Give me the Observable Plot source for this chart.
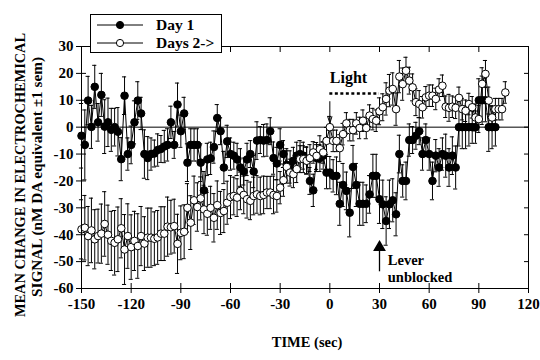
<!DOCTYPE html>
<html><head><meta charset="utf-8">
<script src="https://cdn.jsdelivr.net/npm/d3@7"></script>
<script src="https://cdn.jsdelivr.net/npm/@observablehq/plot@0.6"></script>
<style>
body{margin:0;background:#fff}
#chart svg{font-family:'Liberation Serif',serif;font-weight:bold;font-size:15px;}
</style>
</head><body><div id="chart"></div>
<script>
// time bins (sec)
const time = [
-150,-148,-146,-144,-142,-140,-138,-136,-134,-132,
-130,-128,-126,-124,-122,-120,-118,-116,-114,-112,
-110,-108,-106,-104,-102,-100,-98,-96,-94,-92,
-90,-88,-86,-84,-82,-80,-78,-76,-74,-72,
-70,-68,-66,-64,-62,-60,-58,-56,-54,-52,
-50,-48,-46,-44,-42,-40,-38,-36,-34,-32,
-30,-28,-26,-24,-22,-20,-18,-16,-14,-12,
-10,-8,-6,-4,-2,0,2,4,6,8,
10,12,14,16,18,20,22,24,26,28,
30,32,34,36,38,40,42,44,46,48,
50,52,54,56,58,60,62,64,66,68,
70,72,74,76,78,80,82,84,86,88,
90,92,94,96,98,100,102,104,106];

const day1Mean = [
-3.2,-6.6,9.9,0.1,15,1.8,12,0.2,1.8,-1,0,-1.7,-11.9,11.7,-10,-6.6,1.8,9.9,5.1,-10,-11.5,-10,-9.8,-8.5,-8.1,-7.2,-6.6,
1.8,-6.6,8.4,-1.5,5.1,-13.2,-6.6,-6.6,-6.6,-13.2,-23.5,-12,-11.6,-7.4,3.4,-1.5,-15,-5.3,-10,-10.6,-12,-15,-16.5,-12,-10,-16.5,-5,
-4.8,-5,-4.8,-1.5,-11.5,-13.5,-6.6,-10,-14,-14.8,-12.5,-10.6,-10,-10.6,-12.3,-20,-23.5,-11.5,-11.5,-10.6,-16.9,
-16.9,-18.1,-18.1,-28.5,-21.5,-23.7,-31.8,-14.8,-21.5,-28.5,-28.5,-28.5,-25,-18.1,-18.1,-26.8,-28.7,-34.9,-28.7,-27.2,-32.4,-10,-20,-20,-4.8,-4.8,-3.2,-1.5,
-10,-4.8,-10,-20,-10.6,-15,-10,-10.6,-15,-10.6,-15,0,0,0,0,0,0,10,10,10,0,0,0];
const day1Sem = [
12,13,9,8,8,7,8,10,9,8,7,9,8,7,6,7,8,7,6,9,8,6,5,6,5,6,6,
6,5,8,6,6,7,6,6,6,7,7,6,6,6,5,5,6,6,6,5,6,7,5,6,5,6,7,
5,6,6,5,6,6,6,5,6,6,5,5,5,5,5,5,6,5,5,5,6,
6,6,7,8,8,7,9,8,8,8,8,7,7,8,8,9,9,9,9,8,8,7,6,7,6,5,5,5,
6,6,6,7,6,7,6,8,7,7,8,7,8,8,7,6,6,8,9,8,9,8,7];

const days2Mean = [
-38,-37.4,-40.5,-38.4,-41.7,-40.5,-39.6,-36,-40,-42.3,-43,-41.7,-37.6,-45.5,-40.5,-44.6,-42.3,-44.2,-40.5,-43.3,-41.1,-41.1,-41.5,-41,-39.6,-39.6,-37,
-37.2,-36.8,-43.4,-39.3,-38.9,-30,-35.5,-27.2,-29.7,-26.5,-30.6,-32.2,-30,-33.7,-29,-31.9,-31.2,-28.1,-26,-25.6,-26.2,-23.7,-25.2,-26.8,-27.4,-25.6,-25,
-25.6,-25.2,-24.3,-24.3,-25.2,-25.6,-22.5,-19.7,-14.8,-16.9,-17.5,-15.6,-11.9,-11.9,-12.5,-11.5,-9.4,-10.7,-8.2,-9.4,-5.1,
0,-5.1,-5.1,-7.8,-2.6,1.4,-1.1,-1.1,1.4,-0.3,2.4,-0.3,4.3,3,2.4,5.9,7.4,10.5,13.6,14.2,6.7,18.8,16,21,17.3,14.8,9.3,8.6,
7.4,11.1,11.7,11.7,10.5,14,15.4,7.6,7.2,7.6,7.2,10.9,6.7,6.1,8.6,7.4,3.6,3,16.1,19.8,9.9,3.6,6.7,6.7,6.7,12.9];
const days2Sem = [
11,12,11,12,11,10,11,12,11,11,12,12,11,13,12,12,11,12,11,10,11,11,10,10,10,10,11,
10,10,11,10,10,9,10,9,9,8,9,8,8,9,9,8,8,8,8,7,7,7,7,7,7,7,7,
7,7,6,6,7,6,6,6,6,5,5,5,5,5,5,5,4,5,5,4,5,
4,4,4,5,4,4,4,4,4,4,4,4,4,4,4,5,5,6,6,6,6,6,6,5,5,5,5,5,
4,4,4,4,4,4,4,4,5,4,4,4,4,4,4,4,5,5,6,5,5,4,4,4,4,4];

const xTicks = [-150,-120,-90,-60,-30,0,30,60,90,120];
const yTicks = [30,20,10,0,-10,-20,-30,-40,-50,-60];
const seriesNames = ["Day 1", "Days 2->"];
const yTitle = ["MEAN CHANGE IN ELECTROCHEMICAL", "SIGNAL (nM DA equivalent \u00b11 sem)"];
const xTitle = "TIME (sec)";
// annotations (data units)
const lightNote = {text: "Light", t0: 0, t1: 30, level: 12.5, arrowTop: 9.5, arrowTip: 1.5, labelY: 18.4};
const leverNote = {lines: ["Lever", "unblocked"], t: 30, tail: -53.6, tip: -44.7, textT: 35, lineY: [-49.6, -55.9]};

const rows1 = day1Mean.map((v, i) => ({t: time[i], v, s: day1Sem[i]}));
const rows2 = days2Mean.map((v, i) => ({t: time[i], v, s: days2Sem[i]}));
const cap = 1.25;
const fmt = d => (d < 0 ? "-" + Math.abs(d) : String(d));

function series(rows, fill) {
  return [
    Plot.ruleX(rows, {x: "t", y1: d => d.v - d.s, y2: d => d.v + d.s, stroke: "black", strokeWidth: 1}),
    Plot.ruleY(rows, {y: d => d.v + d.s, x1: d => d.t - cap, x2: d => d.t + cap, stroke: "black", strokeWidth: 1}),
    Plot.ruleY(rows, {y: d => d.v - d.s, x1: d => d.t - cap, x2: d => d.t + cap, stroke: "black", strokeWidth: 1}),
    Plot.line(rows, {x: "t", y: "v", stroke: "black", strokeWidth: 1}),
    Plot.dot(rows, {x: "t", y: "v", r: 3.8, fill, stroke: "black", strokeWidth: 1})
  ];
}

const chart = Plot.plot({
  width: 540, height: 360,
  marginLeft: 81, marginRight: 12, marginTop: 46, marginBottom: 72,
  x: {domain: [-150, 120]},
  y: {domain: [-60, 30]},
  marks: [
    Plot.ruleY([0], {stroke: "black", strokeWidth: 1}),
    ...series(rows1, "black"),
    ...series(rows2, "white"),
    // Light annotation
    Plot.ruleY([lightNote], {y: "level", x1: "t0", x2: "t1", stroke: "black", strokeWidth: 2.5, strokeDasharray: "3,2.5"}),
    Plot.arrow([lightNote], {x1: "t0", x2: "t0", y1: "arrowTop", y2: "arrowTip", stroke: "black", strokeWidth: 1, headLength: 10, headAngle: 36}),
    Plot.text([lightNote], {x: "t0", y: "labelY", text: "text", textAnchor: "start", fontSize: 16, fontWeight: "bold", fill: "black"}),
    // Lever annotation
    Plot.link([leverNote], {x1: "t", x2: "t", y1: "tail", y2: "tip", stroke: "black", strokeWidth: 1.3}),
    Plot.dot([leverNote], {x: "t", y: "tip", symbol: "triangle", r: 3.8, fill: "black", stroke: "black"}),
    Plot.text(leverNote.lines, {x: leverNote.textT, y: (d, i) => leverNote.lineY[i], text: d => d, textAnchor: "start", fontSize: 14.5, fontWeight: "bold", fill: "black"}),
    // axes
    Plot.axisY({ticks: yTicks, tickSize: 5, tickPadding: 3, tickFormat: fmt, label: null, fontSize: 15, fontWeight: "bold", color: "black"}),
    Plot.axisY({ticks: yTicks, tickSize: 5, dx: 5, fill: "none", label: null, stroke: "black"}),
    Plot.axisY({ticks: yTicks, anchor: "right", tickSize: 5, dx: -5, fill: "none", label: null, stroke: "black"}),
    Plot.axisX({ticks: xTicks, tickSize: 5, tickPadding: 5, tickFormat: fmt, label: null, fontSize: 15, fontWeight: "bold", color: "black"}),
    Plot.axisX({ticks: xTicks, tickSize: 5, dy: -5, fill: "none", label: null, stroke: "black"}),
    Plot.axisX({ticks: xTicks, anchor: "top", tickSize: 5, dy: 5, fill: "none", label: null, stroke: "black"}),
    Plot.frame({stroke: "black", strokeWidth: 1})
  ]
});
document.getElementById("chart").appendChild(chart);

const svg = d3.select(chart);
// y title
const yt = svg.append("g").attr("font-size", 15.5).attr("font-weight", "bold").attr("fill", "black").attr("text-anchor", "middle");
yt.append("text").attr("transform", "translate(25,175) rotate(-90)").attr("textLength", 284).attr("lengthAdjust", "spacingAndGlyphs").text(yTitle[0]);
yt.append("text").attr("transform", "translate(42,177) rotate(-90)").attr("textLength", 240).attr("lengthAdjust", "spacingAndGlyphs").text(yTitle[1]);
// x title
svg.append("text").attr("x", 307).attr("y", 347).attr("text-anchor", "middle").attr("font-size", 14.5).attr("font-weight", "bold").text(xTitle);
// legend
const lg = svg.append("g").attr("text-anchor", "start");
lg.append("rect").attr("x", 90.5).attr("y", 14.5).attr("width", 131).attr("height", 38).attr("fill", "white").attr("stroke", "black");
seriesNames.forEach((name, i) => {
  const yy = 25 + i * 18;
  lg.append("line").attr("x1", 97).attr("x2", 143).attr("y1", yy).attr("y2", yy).attr("stroke", "black");
  lg.append("circle").attr("cx", 120).attr("cy", yy).attr("r", 3.6).attr("fill", i === 0 ? "black" : "white").attr("stroke", "black");
  lg.append("text").attr("x", 156).attr("y", yy + 5).attr("text-anchor", "start").attr("font-size", 15.5).attr("font-weight", "bold").text(name);
});
</script>
</body></html>
